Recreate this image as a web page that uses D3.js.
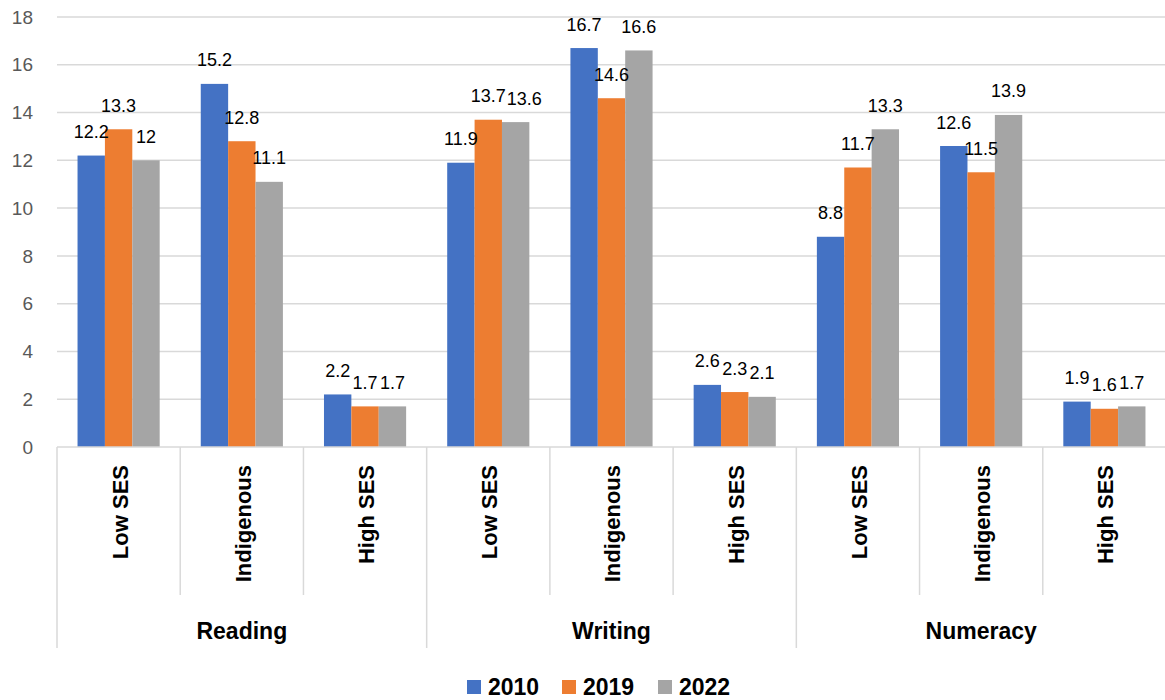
<!DOCTYPE html>
<html>
<head>
<meta charset="utf-8">
<script src="https://cdn.jsdelivr.net/npm/d3@7"></script>
<style>
  html, body { margin: 0; padding: 0; background: #fff; }
  svg { display: block; }
  text { font-family: "Liberation Sans", Arial, sans-serif; }
</style>
</head>
<body>
<svg id="chart" width="1165" height="700"></svg>
<script>
// ---- data ----
const groups = ["Reading", "Writing", "Numeracy"];
const subgroups = ["Low SES", "Indigenous", "High SES"];
const seriesNames = ["2010", "2019", "2022"];
const seriesColors = ["#4472C4", "#ED7D31", "#A5A5A5"];
const values2010 = [12.2, 15.2, 2.2, 11.9, 16.7, 2.6, 8.8, 12.6, 1.9];
const values2019 = [13.3, 12.8, 1.7, 13.7, 14.6, 2.3, 11.7, 11.5, 1.6];
const values2022 = [12, 11.1, 1.7, 13.6, 16.6, 2.1, 13.3, 13.9, 1.7];
const yTicks = [0, 2, 4, 6, 8, 10, 12, 14, 16, 18];

const seriesValues = [values2010, values2019, values2022];

// categories flattened
const cats = [];
groups.forEach(g => subgroups.forEach(s => cats.push({ group: g, sub: s, key: g + "|" + s })));

const svg = d3.select("#chart");
const plotLeft = 57, plotRight = 1166, plotTop = 17, plotBottom = 447;

const x0 = d3.scaleBand().domain(cats.map(c => c.key)).range([plotLeft, plotRight]).paddingInner(0).paddingOuter(0);
const x1 = d3.scaleBand().domain(seriesNames).range([0, x0.bandwidth()]).paddingInner(0).paddingOuter(0.75);
const y = d3.scaleLinear().domain([0, 18]).range([plotBottom, plotTop]);

const gridColor = "#d9d9d9";

// gridlines
svg.append("g").selectAll("line").data(yTicks.filter(t => t > 0)).join("line")
  .attr("x1", plotLeft).attr("x2", 1165)
  .attr("y1", d => y(d)).attr("y2", d => y(d))
  .attr("stroke", gridColor).attr("stroke-width", 1.5);

// y tick labels
svg.append("g").selectAll("text").data(yTicks).join("text")
  .attr("x", 33).attr("y", d => y(d)).attr("dy", "0.35em")
  .attr("text-anchor", "end")
  .attr("font-size", 19).attr("fill", "#595959")
  .text(d => d);

// bars
const barG = svg.append("g");
cats.forEach((c, i) => {
  seriesNames.forEach((s, j) => {
    const v = seriesValues[j][i];
    barG.append("rect")
      .attr("x", x0(c.key) + x1(s))
      .attr("y", y(v))
      .attr("width", x1.bandwidth())
      .attr("height", y(0) - y(v))
      .attr("fill", seriesColors[j]);
  });
});

// data labels (with simple collision nudging to the right, like the original)
const lblG = svg.append("g");
const capH = 13;
cats.forEach((c, i) => {
  const placed = [];
  seriesNames.forEach((s, j) => {
    const v = seriesValues[j][i];
    let cx = x0(c.key) + x1(s) + x1.bandwidth() / 2;
    const base = y(v) - 17.5;
    const t = lblG.append("text")
      .attr("x", cx)
      .attr("y", base)
      .attr("text-anchor", "middle")
      .attr("font-size", 18).attr("fill", "#000")
      .text(v);
    const w = t.node().getComputedTextLength();
    let box = { l: cx - w / 2, r: cx + w / 2, t: base - capH, b: base };
    placed.forEach(p => {
      const vOverlap = box.t < p.b && box.b > p.t;
      if (vOverlap && box.l < p.r) {
        const shift = p.r - box.l + 1;
        cx += shift; box.l += shift; box.r += shift;
      }
    });
    t.attr("x", cx);
    placed.push(box);
  });
});

// x axis baseline
svg.append("line").attr("x1", plotLeft).attr("x2", 1165).attr("y1", plotBottom).attr("y2", plotBottom)
  .attr("stroke", gridColor).attr("stroke-width", 1.5);

// separators
const sepG = svg.append("g");
cats.forEach((c, i) => {
  const xPos = x0(c.key);
  const isGroupStart = i % subgroups.length === 0;
  sepG.append("line")
    .attr("x1", xPos).attr("x2", xPos)
    .attr("y1", plotBottom).attr("y2", isGroupStart ? 648 : 595)
    .attr("stroke", gridColor).attr("stroke-width", 1.5);
});
sepG.append("line").attr("x1", plotRight).attr("x2", plotRight).attr("y1", plotBottom).attr("y2", 648)
  .attr("stroke", gridColor).attr("stroke-width", 1.5);

// subgroup labels (rotated)
svg.append("g").selectAll("text").data(cats).join("text")
  .attr("transform", d => `translate(${x0(d.key) + x0.bandwidth() / 2 + 1},465) rotate(-90)`)
  .attr("dy", "0.36em")
  .attr("text-anchor", "end")
  .attr("font-size", 22).attr("font-weight", "bold").attr("fill", "#000")
  .text(d => d.sub);

// group labels
svg.append("g").selectAll("text").data(groups).join("text")
  .attr("x", (g, gi) => {
    const first = x0(cats[gi * 3].key);
    const last = x0(cats[gi * 3 + 2].key) + x0.bandwidth();
    return (first + last) / 2;
  })
  .attr("y", 639)
  .attr("text-anchor", "middle")
  .attr("font-size", 23).attr("font-weight", "bold").attr("fill", "#000")
  .text(d => d);

// legend
const legendX = [467, 562, 658];
const leg = svg.append("g");
seriesNames.forEach((s, j) => {
  leg.append("rect").attr("x", legendX[j]).attr("y", 680).attr("width", 14).attr("height", 14)
    .attr("fill", seriesColors[j]);
  leg.append("text").attr("x", legendX[j] + 21).attr("y", 695)
    .attr("font-size", 23).attr("font-weight", "bold").attr("fill", "#000")
    .text(s);
});
</script>
</body>
</html>
